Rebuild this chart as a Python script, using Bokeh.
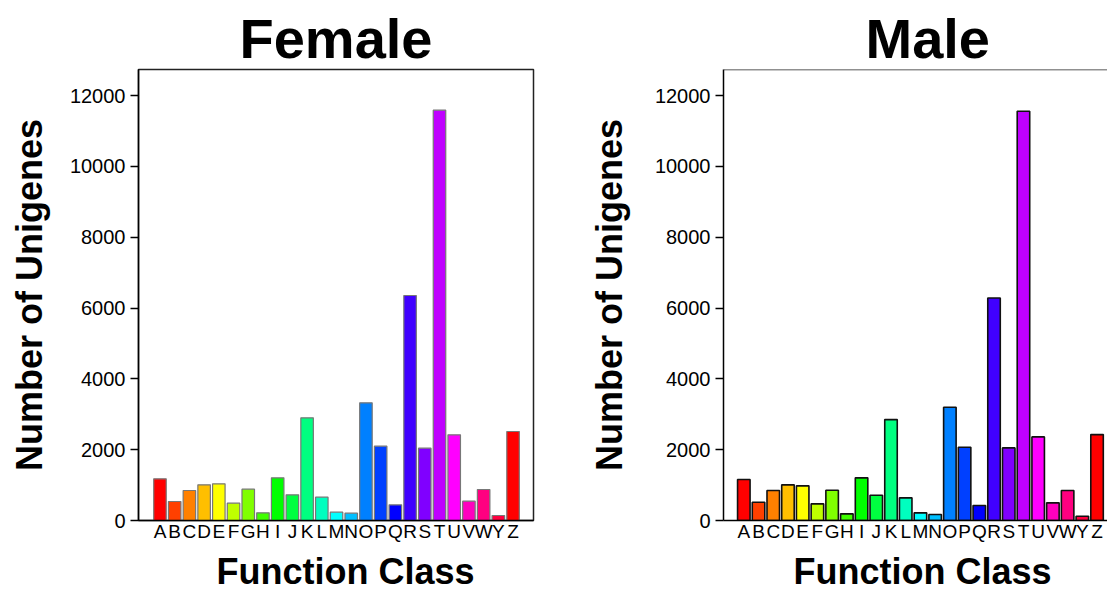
from bokeh.plotting import figure
from bokeh.layouts import row
from bokeh.models import FixedTicker, Range1d, Span, Title
from bokeh.embed import file_html
from bokeh.resources import INLINE

categories = ["A", "B", "C", "D", "E", "F", "G", "H", "I", "J", "K", "L", "M",
              "N", "O", "P", "Q", "R", "S", "T", "U", "V", "W", "Y", "Z"]
female = [1176, 536, 847, 1007, 1035, 489, 885, 216, 1205, 725, 2899, 659, 235,
          207, 3322, 2099, 442, 6353, 2042, 11586, 2419, 546, 875, 141, 2513]
male = [1157, 517, 846, 1006, 978, 470, 856, 188, 1204, 715, 2849, 639, 216,
        169, 3197, 2069, 423, 6281, 2050, 11556, 2360, 498, 846, 122, 2426]
colors = ["#FF0000", "#FF4000", "#FF8000", "#FFBF00", "#FFFF00", "#BFFF00", "#80FF00",
          "#40FF00", "#00FF00", "#00FF40", "#00FF80", "#00FFBF", "#00FFFF", "#00BFFF",
          "#0080FF", "#0040FF", "#0000FF", "#4000FF", "#8000FF", "#BF00FF", "#FF00FF",
          "#FF00BF", "#FF0080", "#FF0040", "#FF0000"]
y_ticks = [0, 2000, 4000, 6000, 8000, 10000, 12000]

FONT = "Liberation Sans"
YMAX = 12735


def make(title, values, x_range, width, border_left, border_right, line_color,
         line_width, outline, title_offset, xlabel_offset, ylabel_standoff):
    p = figure(width=width, height=597, x_range=x_range, y_range=Range1d(0, YMAX),
               output_backend="svg", toolbar_location=None, title=None,
               min_border_left=border_left, min_border_right=border_right,
               min_border_top=69, min_border_bottom=77)
    xs = list(range(len(categories)))
    p.vbar(x=xs, top=values, width=0.85, bottom=0, fill_color=colors,
           line_color=line_color, line_width=line_width)
    p.xgrid.visible = False
    p.ygrid.visible = False
    if outline:
        p.outline_line_color = "#222222"
        p.outline_line_width = 1.5
    else:
        p.outline_line_color = None
        p.add_layout(Span(location=YMAX, dimension="width", line_color="#222222",
                          line_width=1.5))
    p.add_layout(Title(text=title, align="left", offset=title_offset, standoff=0,
                       text_font=FONT, text_font_style="bold", text_font_size="56px",
                       text_color="black", text_line_height=1.0), "above")
    p.add_layout(Title(text="Function Class", align="left", offset=xlabel_offset,
                       standoff=8, text_font=FONT, text_font_style="bold",
                       text_font_size="36px", text_color="black",
                       text_line_height=1.0), "below")
    xa = p.xaxis[0]
    xa.ticker = FixedTicker(ticks=xs)
    xa.major_label_overrides = {i: c for i, c in enumerate(categories)}
    xa.major_tick_out = 0
    xa.major_tick_in = 0
    xa.minor_tick_out = 0
    xa.minor_tick_in = 0
    xa.major_label_standoff = 0
    xa.major_label_text_font = FONT
    xa.major_label_text_font_size = "19px"
    xa.major_label_text_color = "black"
    xa.axis_line_color = "black"
    xa.axis_line_width = 1.5
    ya = p.yaxis[0]
    ya.ticker = FixedTicker(ticks=y_ticks)
    ya.major_tick_out = 8
    ya.major_tick_in = 0
    ya.minor_tick_out = 0
    ya.minor_tick_in = 0
    ya.major_label_standoff = 5
    ya.major_label_text_font = FONT
    ya.major_label_text_font_size = "20px"
    ya.major_label_text_color = "black"
    ya.axis_line_color = "black"
    ya.axis_line_width = 1.5
    ya.major_tick_line_width = 1.5
    ya.axis_label = "Number of Unigenes"
    ya.axis_label_text_font = FONT
    ya.axis_label_text_font_style = "bold"
    ya.axis_label_text_font_size = "36px"
    ya.axis_label_text_color = "black"
    ya.axis_label_standoff = ylabel_standoff
    return p


p1 = make("Female", female, Range1d(-1.46, 25.39), 585, 138, 52, "#777777", 1.2, True,
          101, 78, 17)
p2 = make("Male", male, Range1d(-1.38, 24.71), 522, 138, 0, "#111111", 1.6, False,
          142, 70, 22)

layout = row(p1, p2)
open("out.html", "w").write(file_html(layout, INLINE))
